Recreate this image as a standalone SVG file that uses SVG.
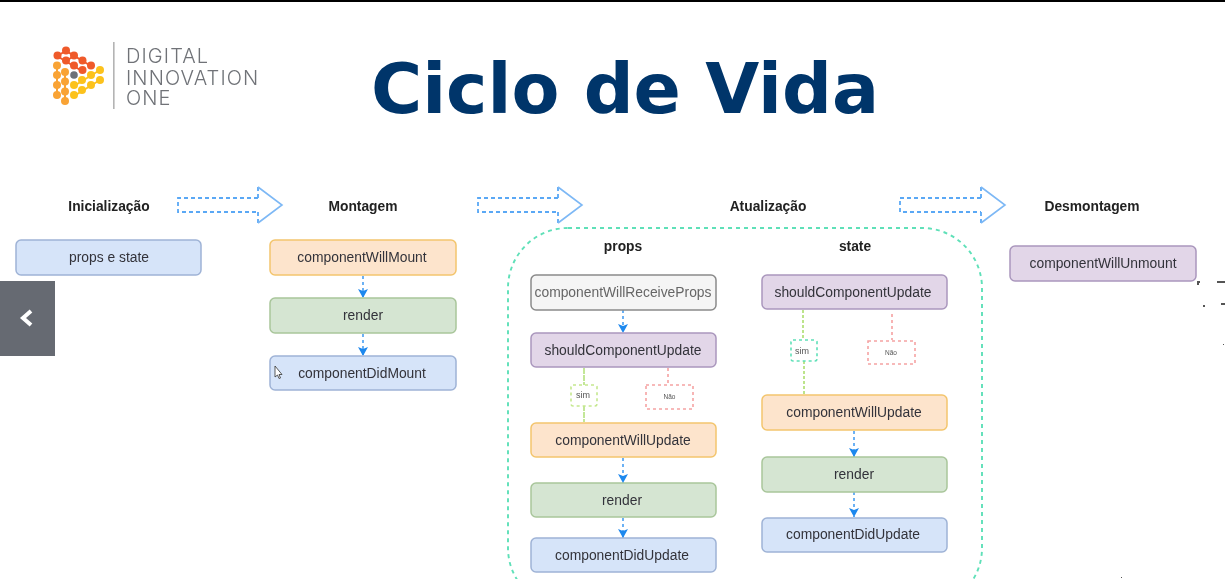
<svg xmlns="http://www.w3.org/2000/svg" width="1225" height="579" viewBox="0 0 1225 579">
<style>
.t{font-family:"Liberation Sans",Arial,sans-serif;font-size:13.85px;text-anchor:middle;fill:#33333a}
.h{font-family:"Liberation Sans",Arial,sans-serif;font-size:13.8px;font-weight:bold;text-anchor:middle;fill:#222}
.n{stroke-width:1.5}
.blue{fill:#d6e4f9;stroke:#9fb3d6}
.org{fill:#fde4cc;stroke:#f3c56d}
.grn{fill:#d5e5d2;stroke:#a9c69b}
.pur{fill:#e2d6e8;stroke:#aa97bd}
.gry{fill:#f5f5f5;stroke:#8a8a8a}
.ar{fill:none;stroke:#1e88ee;stroke-width:1.3;stroke-dasharray:3 3}
.big{fill:none;stroke:#5aa8f5;stroke-width:1.8;stroke-dasharray:4 3}
.head{fill:none;stroke:#7db8f5;stroke-width:1.6}
.r{fill:#ef5a2c}.o{fill:#f9a335}.y{fill:#fcc21f}
</style>
<defs>
<marker id="a" markerWidth="12" markerHeight="12" refX="9" refY="5" orient="auto" markerUnits="userSpaceOnUse"><path d="M0 0L9 5L0 10L2 5Z" fill="#1e88ee"/></marker>
<filter id="soft" x="0" y="0" width="100%" height="100%"><feGaussianBlur stdDeviation="0.5"/></filter>
</defs>
<rect width="1225" height="579" fill="#fff"/>
<g filter="url(#soft)">
<g id="logo">
<path d="M57 56L66 51L91 66M57 56L82 71M66 61L74 56" fill="none" stroke="#ef5a2c" stroke-width="2"/>
<path d="M57 65V95M65 72V101" fill="none" stroke="#f9a335" stroke-width="2"/>
<path d="M74 86L100 70M74 96L100 80" fill="none" stroke="#fcc21f" stroke-width="2"/>
<g class="r"><circle cx="57.500" cy="55.500" r="4"/><circle cx="66" cy="50.500" r="4"/><circle cx="74" cy="55.500" r="4"/><circle cx="82.500" cy="60.500" r="4"/><circle cx="66" cy="60.500" r="4"/><circle cx="74" cy="65.500" r="4"/><circle cx="82.500" cy="70" r="4"/><circle cx="91" cy="65.500" r="4"/></g>
<g class="o"><circle cx="57" cy="65.500" r="4"/><circle cx="57" cy="75" r="4"/><circle cx="57" cy="85" r="4"/><circle cx="57" cy="95" r="4"/><circle cx="65" cy="72" r="4"/><circle cx="65" cy="81.500" r="4"/><circle cx="65" cy="91.500" r="4"/><circle cx="65" cy="101" r="4"/></g>
<g class="y"><circle cx="74" cy="85" r="4"/><circle cx="74" cy="95" r="4"/><circle cx="82" cy="80" r="4"/><circle cx="82" cy="90" r="4"/><circle cx="91" cy="75" r="4"/><circle cx="91" cy="85" r="4"/><circle cx="100" cy="70" r="4"/><circle cx="100" cy="80" r="4"/></g>
<circle cx="74" cy="75" r="3.800" fill="#6d7178"/>
<rect x="113" y="42" width="1.600" height="67" fill="#b4b4b4"/>
<g font-family="Inter,'Liberation Sans',sans-serif" font-weight="300" font-size="20" letter-spacing="1.100" fill="#6f7277"><text x="126" y="63">DIGITAL</text><text x="126" y="84.500">INNOVATION</text><text x="126" y="105">ONE</text></g>
</g>
<text id="title" x="625" y="113" font-family="'DejaVu Sans',sans-serif" font-weight="bold" font-size="69.800" text-anchor="middle" fill="#03366b">Ciclo de Vida</text>
<g id="connectors">
<path class="big" d="M258 198H178V212H258M258 198V187M258 212V223"/>
<path class="head" d="M258 187L282 205L258 223"/>
<path class="big" d="M558 198H478V212H558M558 198V187M558 212V223"/>
<path class="head" d="M558 187L582 205L558 223"/>
<path class="big" d="M981 198H900V212H981M981 198V187M981 212V223"/>
<path class="head" d="M981 187L1005 205L981 223"/>
<rect x="508" y="228" width="474" height="380" rx="60" fill="none" stroke="#5fe0b8" stroke-width="1.900" stroke-dasharray="4 4"/>
<path class="ar" d="M363 276V298" marker-end="url(#a)"/>
<path class="ar" d="M363 334V356" marker-end="url(#a)"/>
<path class="ar" d="M623 310V333" marker-end="url(#a)"/>
<path class="ar" d="M623 458V483" marker-end="url(#a)"/>
<path class="ar" d="M623 518V538" marker-end="url(#a)"/>
<path class="ar" d="M854 431V457" marker-end="url(#a)"/>
<path class="ar" d="M854 492V517" marker-end="url(#a)"/>
<path d="M584 368V386M584 405V422" fill="none" stroke="#b5e27f" stroke-width="1.600" stroke-dasharray="6 1"/>
<path d="M668 368V385" fill="none" stroke="#f59a9a" stroke-width="1.500" stroke-dasharray="3 3"/>
<path d="M803 310V340M804 361V402" fill="none" stroke="#b5e27f" stroke-width="1.800" stroke-dasharray="3 2"/>
<path d="M892 314V340" fill="none" stroke="#f59a9a" stroke-width="1.500" stroke-dasharray="3 3"/>
</g>
<text class="h" x="109" y="211">Inicialização</text>
<text class="h" x="363" y="211">Montagem</text>
<text class="h" x="768" y="211">Atualização</text>
<text class="h" x="1092" y="211">Desmontagem</text>
<text class="h" x="623" y="251">props</text>
<text class="h" x="855" y="251">state</text>
<g id="n1"><rect class="n blue" x="16" y="240" width="185" height="35" rx="5"/><text class="t" x="109" y="262">props e state</text></g>
<g id="n2"><rect class="n org" x="270" y="240" width="186" height="35" rx="5"/><text class="t" x="362" y="262">componentWillMount</text></g>
<g id="n3"><rect class="n grn" x="270" y="298" width="186" height="35" rx="5"/><text class="t" x="363" y="320">render</text></g>
<g id="n4"><rect class="n blue" x="270" y="356" width="186" height="34" rx="5"/><text class="t" x="362" y="378">componentDidMount</text></g>
<g id="n5"><rect class="n gry" x="531" y="275" width="185" height="35" rx="5"/><text class="t" x="623" y="297" style="fill:#666">componentWillReceiveProps</text></g>
<g id="n6"><rect class="n pur" x="531" y="333" width="185" height="34" rx="5"/><text class="t" x="623" y="355">shouldComponentUpdate</text></g>
<g id="n7"><rect class="n org" x="531" y="423" width="185" height="34" rx="5"/><text class="t" x="623" y="445">componentWillUpdate</text></g>
<g id="n8"><rect class="n grn" x="531" y="483" width="185" height="34" rx="5"/><text class="t" x="622" y="505">render</text></g>
<g id="n9"><rect class="n blue" x="531" y="538" width="185" height="34" rx="5"/><text class="t" x="622" y="560">componentDidUpdate</text></g>
<g id="n10"><rect class="n pur" x="762" y="275" width="185" height="34" rx="5"/><text class="t" x="853" y="297">shouldComponentUpdate</text></g>
<g id="n11"><rect class="n org" x="762" y="395" width="185" height="35" rx="5"/><text class="t" x="854" y="417">componentWillUpdate</text></g>
<g id="n12"><rect class="n grn" x="762" y="457" width="185" height="35" rx="5"/><text class="t" x="854" y="479">render</text></g>
<g id="n13"><rect class="n blue" x="762" y="518" width="185" height="34" rx="5"/><text class="t" x="853" y="539">componentDidUpdate</text></g>
<g id="n14"><rect class="n pur" x="1010" y="246" width="186" height="35" rx="5"/><text class="t" x="1103" y="268">componentWillUnmount</text></g>
<g id="sim1"><rect x="571" y="385" width="26" height="21" rx="2" fill="#fff" stroke="#c5e88f" stroke-width="1.600" stroke-dasharray="3 3"/><text x="583" y="398" font-family="'Liberation Sans',sans-serif" font-size="9" text-anchor="middle" fill="#555">sim</text></g>
<g id="nao1"><rect x="646" y="385" width="47" height="24" fill="#fff" stroke="#f5a3a3" stroke-width="1.600" stroke-dasharray="3 3"/><text x="669.500" y="399" font-family="'Liberation Sans',sans-serif" font-size="6.500" text-anchor="middle" fill="#555">Não</text></g>
<g id="sim2"><rect x="791" y="340" width="26" height="21" rx="2" fill="#fff" stroke="#5fe0b8" stroke-width="1.600" stroke-dasharray="3 3"/><text x="802" y="354" font-family="'Liberation Sans',sans-serif" font-size="9" text-anchor="middle" fill="#555">sim</text></g>
<g id="nao2"><rect x="868" y="341" width="47" height="23" fill="#fff" stroke="#f5a3a3" stroke-width="1.600" stroke-dasharray="3 3"/><text x="891" y="355" font-family="'Liberation Sans',sans-serif" font-size="6.500" text-anchor="middle" fill="#555">Não</text></g>
<g id="back"><rect x="0" y="281" width="55" height="75" fill="#666a72"/><path d="M31 311L23 318L31 325" fill="none" stroke="#fff" stroke-width="4"/></g>
<path id="cursor" d="M275 366V377L277.500 375L279 378.500L280.500 378L279 374.500H282Z" fill="#fff" stroke="#333" stroke-width=".8"/>
<g id="marks" fill="#555"><rect x="1197" y="281" width="3" height="2"/><rect x="1197" y="281" width="2" height="4"/><rect x="1217" y="281" width="8" height="2"/><rect x="1203" y="305" width="2" height="2"/><rect x="1221" y="303" width="4" height="2"/><rect x="1223" y="344" width="1" height="1"/><rect x="1121" y="577" width="1" height="1"/></g>
</g>
<rect id="topbar" width="1225" height="2" fill="#000"/>
</svg>
